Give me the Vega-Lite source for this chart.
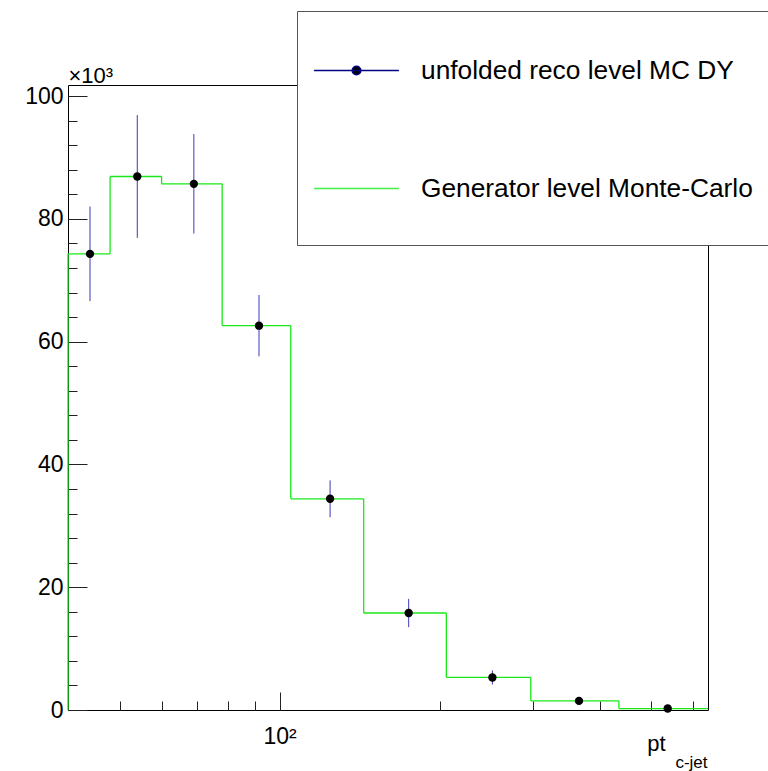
{
  "$schema": "https://vega.github.io/schema/vega-lite/v6.json",
  "width": 640,
  "height": 625,
  "autosize": {"type": "none"},
  "padding": {"left": 68, "top": 85, "right": 60, "bottom": 61},
  "background": "white",
  "config": {
    "font": "Liberation Sans",
    "view": {"stroke": "#000", "strokeWidth": 1},
    "axis": {
      "labelFont": "Liberation Sans",
      "titleFont": "Liberation Sans",
      "labelColor": "#000",
      "titleColor": "#000",
      "tickColor": "#222",
      "tickWidth": 1,
      "titleFontWeight": "normal",
      "grid": false,
      "domain": false
    },
    "legend": {"labelFont": "Liberation Sans", "titleFont": "Liberation Sans"}
  },
  "datasets": {
    "bins": [
      {"bin": 1, "lo": 40, "hi": 48, "center": 44, "gen": 74.3, "reco": 74.3, "err": 7.7},
      {"bin": 2, "lo": 48, "hi": 60, "center": 54, "gen": 86.9, "reco": 86.9, "err": 10.0},
      {"bin": 3, "lo": 60, "hi": 78, "center": 69, "gen": 85.7, "reco": 85.7, "err": 8.1},
      {"bin": 4, "lo": 78, "hi": 105, "center": 91.5, "gen": 62.6, "reco": 62.6, "err": 5.0},
      {"bin": 5, "lo": 105, "hi": 144, "center": 124.5, "gen": 34.4, "reco": 34.4, "err": 3.0},
      {"bin": 6, "lo": 144, "hi": 206, "center": 175, "gen": 15.8, "reco": 15.8, "err": 2.3},
      {"bin": 7, "lo": 206, "hi": 297, "center": 251.5, "gen": 5.3, "reco": 5.3, "err": 1.15},
      {"bin": 8, "lo": 297, "hi": 435, "center": 366, "gen": 1.48, "reco": 1.48, "err": 0.45},
      {"bin": 9, "lo": 435, "hi": 640, "center": 537.5, "gen": 0.24, "reco": 0.24, "err": 0.12}
    ],
    "series": [
      {"series": "unfolded reco level MC DY"},
      {"series": "Generator level Monte-Carlo"}
    ]
  },
  "resolve": {"axis": {"x": "independent", "y": "independent"}},
  "layer": [
    {
      "data": {"name": "bins"},
      "mark": {"type": "rule", "color": "#18e818", "strokeWidth": 1.3},
      "encoding": {
        "x": {
          "field": "lo",
          "type": "quantitative",
          "scale": {"type": "log", "domain": [40, 640], "nice": false},
          "axis": {
            "orient": "bottom",
            "values": [100],
            "labelExpr": "'10²'",
            "labelFontSize": 23,
            "labelBaseline": "alphabetic",
            "labelPadding": 51,
            "tickSize": -18,
            "title": "pt",
            "titleFontSize": 22,
            "titleAlign": "right",
            "titleBaseline": "alphabetic",
            "titleX": 597,
            "titleY": 40
          }
        },
        "x2": {"field": "hi"},
        "y": {
          "field": "gen",
          "type": "quantitative",
          "scale": {"domain": [0, 101.8], "nice": false, "zero": true},
          "axis": {
            "orient": "left",
            "values": [0, 20, 40, 60, 80, 100],
            "labelFontSize": 23,
            "labelPadding": 24,
            "tickSize": -19,
            "title": "×10³",
            "titleFontSize": 22,
            "titleAngle": 0,
            "titleAlign": "left",
            "titleBaseline": "alphabetic",
            "titleX": 0,
            "titleY": -3
          }
        }
      }
    },
    {
      "data": {"name": "bins"},
      "transform": [
        {"window": [{"op": "lag", "field": "gen", "as": "prevRaw"}], "sort": [{"field": "bin"}]},
        {"calculate": "datum.prevRaw == null ? 0 : datum.prevRaw", "as": "prev"}
      ],
      "mark": {"type": "rule", "color": "#18e818", "strokeWidth": 1.3},
      "encoding": {
        "x": {
          "field": "lo",
          "type": "quantitative",
          "axis": {
            "orient": "bottom",
            "values": [50, 60, 70, 80, 90, 200, 300, 400, 500, 600],
            "labels": false,
            "tickSize": -9,
            "title": "c-jet",
            "titleFontSize": 17,
            "titleAlign": "right",
            "titleBaseline": "alphabetic",
            "titleX": 639,
            "titleY": 57
          }
        },
        "y": {
          "field": "prev",
          "type": "quantitative",
          "axis": {
            "orient": "left",
            "values": [4, 8, 12, 16, 24, 28, 32, 36, 44, 48, 52, 56, 64, 68, 72, 76, 84, 88, 92, 96],
            "labels": false,
            "tickSize": -9,
            "title": null
          }
        },
        "y2": {"field": "gen"}
      }
    },
    {
      "data": {"name": "bins"},
      "transform": [
        {"calculate": "datum.reco - datum.err", "as": "down"},
        {"calculate": "datum.reco + datum.err", "as": "up"}
      ],
      "mark": {"type": "rule", "color": "#3a3ab8", "strokeWidth": 1},
      "encoding": {
        "x": {"field": "center", "type": "quantitative", "axis": null},
        "y": {"field": "down", "type": "quantitative", "axis": null},
        "y2": {"field": "up"}
      }
    },
    {
      "data": {"name": "bins"},
      "mark": {"type": "point", "filled": true, "color": "#000", "size": 70, "opacity": 1},
      "encoding": {
        "x": {"field": "center", "type": "quantitative", "axis": null},
        "y": {"field": "reco", "type": "quantitative", "axis": null}
      }
    },
    {
      "data": {"name": "series"},
      "mark": {"type": "point", "strokeWidth": 1.5, "opacity": 0},
      "encoding": {
        "shape": {
          "field": "series",
          "type": "nominal",
          "scale": {
            "domain": ["unfolded reco level MC DY", "Generator level Monte-Carlo"],
            "range": [
              "M-1.08,0H1.08M0.11,0A0.11,0.11,0,1,1,-0.11,0A0.11,0.11,0,1,1,0.11,0Z",
              "M-1.08,0H1.08"
            ]
          },
          "legend": {
            "orient": "none",
            "legendX": 229,
            "legendY": -74,
            "title": " ",
            "titleOrient": "bottom",
            "titleFontSize": 16,
            "titlePadding": 8,
            "padding": 19,
            "fillColor": "#fff",
            "strokeColor": "#555",
            "rowPadding": 64,
            "symbolSize": 6178,
            "symbolStrokeWidth": 1.5,
            "symbolOpacity": 1,
            "labelFontSize": 26.3,
            "labelColor": "#000",
            "labelOffset": 24,
            "labelLimit": 600
          }
        },
        "stroke": {
          "field": "series",
          "type": "nominal",
          "scale": {
            "domain": ["unfolded reco level MC DY", "Generator level Monte-Carlo"],
            "range": ["#000080", "#44f044"]
          }
        },
        "fill": {
          "field": "series",
          "type": "nominal",
          "scale": {
            "domain": ["unfolded reco level MC DY", "Generator level Monte-Carlo"],
            "range": ["#000", "transparent"]
          }
        }
      }
    }
  ]
}
